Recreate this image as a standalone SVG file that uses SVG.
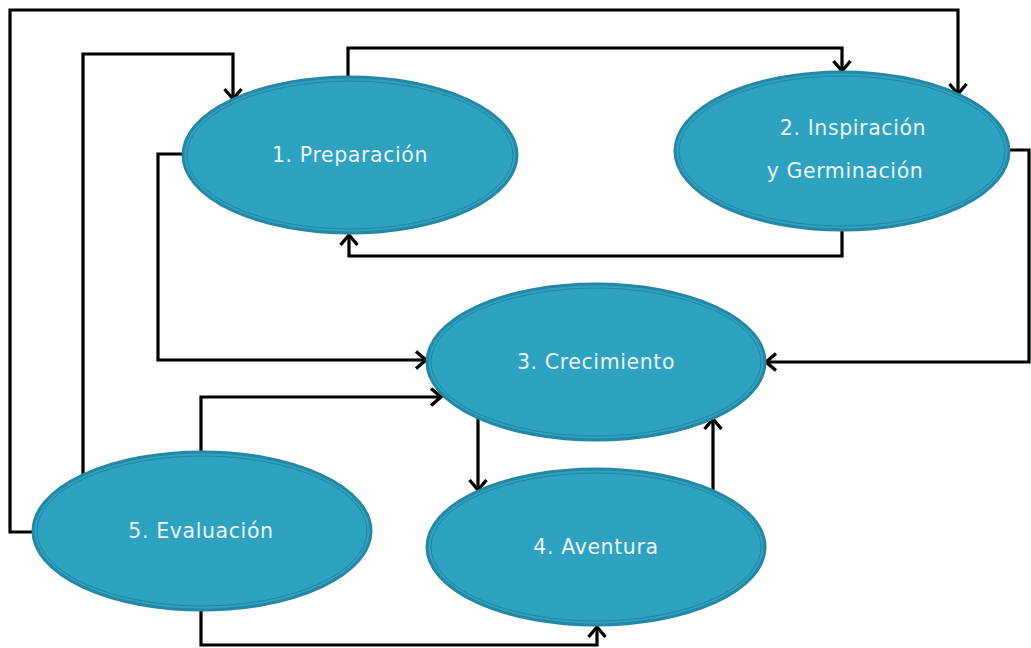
<svg xmlns="http://www.w3.org/2000/svg" width="1031" height="648" viewBox="0 0 1031 648">
  <style>
    .node-shape { fill: #2da2c1; stroke: #2487a3; stroke-width: 3; }
    .node-rim { fill: none; stroke: #2383a0; stroke-width: 1; }
    .label { font-family: "DejaVu Sans", "Verdana", sans-serif; font-size: 20.5px; fill: #eef6f8; text-anchor: middle; letter-spacing: 0.6px; }
    .link { fill: none; stroke: #000; stroke-width: 3.2; stroke-linejoin: miter; }
  </style>
  <defs>
    <marker id="arrow" viewBox="-14 -11 17 22" markerWidth="17" markerHeight="22" refX="0" refY="0" orient="auto" markerUnits="userSpaceOnUse">
      <path d="M-10,-8.5 L0,0 L-10,8.5" fill="none" stroke="#000" stroke-width="3.4"/>
    </marker>
  </defs>
  <rect width="1031" height="648" fill="#fff"/>

  <g id="connectors">
    <!-- 5 -> 2 : outer loop -->
    <path class="link" d="M33,532 H10 V10 H958 V94" marker-end="url(#arrow)"/>
    <!-- 5 -> 1 -->
    <path class="link" d="M83,477 V54 H233 V99" marker-end="url(#arrow)"/>
    <!-- 1 -> 2 -->
    <path class="link" d="M348,78 V48 H842 V71" marker-end="url(#arrow)"/>
    <!-- 2 -> 1 -->
    <path class="link" d="M842,228 V256 H349 V235" marker-end="url(#arrow)"/>
    <!-- 1 -> 3 -->
    <path class="link" d="M183,154 H158 V360 H426" marker-end="url(#arrow)"/>
    <!-- 2 -> 3 -->
    <path class="link" d="M1009,150 H1029 V362 H766" marker-end="url(#arrow)"/>
    <!-- 5 -> 3 -->
    <path class="link" d="M201,453 V397 H441" marker-end="url(#arrow)"/>
    <!-- 3 -> 4 -->
    <path class="link" d="M478,417 V490" marker-end="url(#arrow)"/>
    <!-- 4 -> 3 -->
    <path class="link" d="M713,492 V419" marker-end="url(#arrow)"/>
    <!-- 5 -> 4 -->
    <path class="link" d="M201,609 V645 H597 V627" marker-end="url(#arrow)"/>
  </g>

  <g id="node1">
    <ellipse class="node-shape" cx="350" cy="155" rx="167" ry="78"/>
    <ellipse class="node-rim" cx="350" cy="155" rx="163" ry="74"/>
    <text class="label" x="350" y="162">1. Preparación</text>
  </g>
  <g id="node2">
    <ellipse class="node-shape" cx="842" cy="151" rx="167" ry="79"/>
    <ellipse class="node-rim" cx="842" cy="151" rx="163" ry="75"/>
    <text class="label" x="853" y="135">2. Inspiración</text>
    <text class="label" x="845" y="178">y Germinación</text>
  </g>
  <g id="node3">
    <ellipse class="node-shape" cx="596" cy="362" rx="169" ry="78"/>
    <ellipse class="node-rim" cx="596" cy="362" rx="165" ry="74"/>
    <text class="label" x="596" y="369">3. Crecimiento</text>
  </g>
  <g id="node4">
    <ellipse class="node-shape" cx="596" cy="547" rx="169" ry="78"/>
    <ellipse class="node-rim" cx="596" cy="547" rx="165" ry="74"/>
    <text class="label" x="596" y="554">4. Aventura</text>
  </g>
  <g id="node5">
    <ellipse class="node-shape" cx="202" cy="531" rx="169" ry="79"/>
    <ellipse class="node-rim" cx="202" cy="531" rx="165" ry="75"/>
    <text class="label" x="201" y="538">5. Evaluación</text>
  </g>
</svg>
